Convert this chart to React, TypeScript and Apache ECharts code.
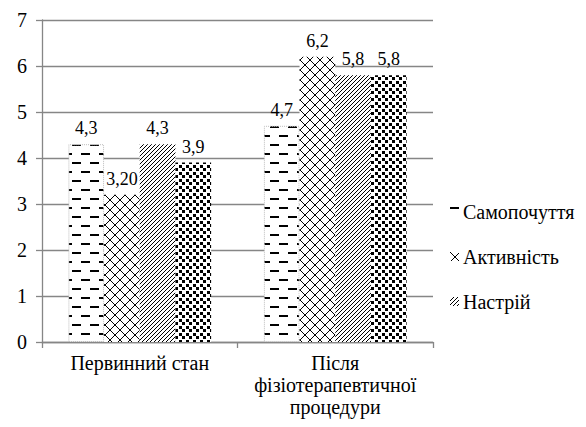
import React, { useEffect, useRef } from "react";
import * as echarts from "echarts";

const categories = ["Первинний стан", "Після\nфізіотерапевтичної\nпроцедури"];
const seriesNames = ["Самопочуття", "Активність", "Настрій", "Ряд4"];
const legendNames = ["Самопочуття", "Активність", "Настрій"];
const samopochuttya = [4.3, 4.7];
const aktyvnist = [3.2, 6.2];
const nastrii = [4.3, 5.8];
const riad4 = [3.9, 5.8];
const valueLabels = [
  ["4,3", "4,7"],
  ["3,20", "6,2"],
  ["4,3", "5,8"],
  ["3,9", "5,8"],
];
const yTicks = [0, 1, 2, 3, 4, 5, 6, 7];

const FONT = "Liberation Serif";

function makeCanvas(w: number, h: number, draw: (ctx: CanvasRenderingContext2D) => void) {
  const c = document.createElement("canvas");
  c.width = w;
  c.height = h;
  const ctx = c.getContext("2d")!;
  ctx.fillStyle = "#ffffff";
  ctx.fillRect(0, 0, w, h);
  ctx.fillStyle = "#000000";
  draw(ctx);
  return c;
}

function patterns() {
  const dashes = makeCanvas(18, 18, (ctx) => {
    ctx.fillRect(0, 0, 9, 2);
    ctx.fillRect(9, 9, 9, 2);
  });
  const diamond = makeCanvas(10, 10, (ctx) => {
    for (let i = 0; i < 10; i++) {
      ctx.fillRect(i, i, 1, 1);
      ctx.fillRect(9 - i, i, 1, 1);
    }
  });
  const diag = makeCanvas(4, 4, (ctx) => {
    for (let i = 0; i < 4; i++) {
      ctx.fillRect(3 - i, i, 1, 1);
    }
  });
  const confetti = makeCanvas(7, 7, (ctx) => {
    ctx.fillRect(0, 0, 3, 3);
    ctx.fillRect(4, 4, 3, 3);
  });
  return [dashes, diamond, diag, confetti].map((img) => ({
    image: img,
    repeat: "repeat",
  }));
}

function txt(text: string, x: number, y: number, size: number, align: string, valign: string, lineHeight?: number) {
  return {
    type: "text",
    x,
    y,
    style: {
      text,
      fontFamily: FONT,
      fontSize: size,
      fill: "#000",
      align,
      verticalAlign: valign,
      textAlign: align,
      textVerticalAlign: valign,
      lineHeight: lineHeight || size + 2,
    },
  };
}

export default function App() {
  const ref = useRef<HTMLDivElement>(null);
  useEffect(() => {
    if (!ref.current) return;
    const chart = echarts.init(ref.current, null, { renderer: "svg" });
    const pats = patterns();
    const dataSets = [samopochuttya, aktyvnist, nastrii, riad4];
    const option: any = {
      animation: false,
      textStyle: { fontFamily: FONT },
      grid: { left: 42, right: 153, top: 20, bottom: 85, containLabel: false },
      xAxis: {
        type: "category",
        data: categories,
        axisLine: { lineStyle: { color: "#868686", width: 1.3 } },
        axisTick: { show: true, length: 6, lineStyle: { color: "#868686", width: 1.3 } },
        axisLabel: { show: false },
      },
      yAxis: {
        type: "value",
        min: yTicks[0],
        max: yTicks[yTicks.length - 1],
        interval: 1,
        axisLine: { show: true, lineStyle: { color: "#868686", width: 1.3 } },
        axisTick: { show: true, length: 6, lineStyle: { color: "#868686", width: 1.3 } },
        splitLine: { lineStyle: { color: "#868686", width: 1.3 } },
        axisLabel: { show: false },
      },
      series: dataSets.map((d, si) => ({
        name: seriesNames[si],
        type: "bar",
        data: d,
        barGap: "0%",
        barCategoryGap: "27%",
        itemStyle: {
          color: pats[si],
          borderColor: si === 0 ? "#bbbbbb" : "transparent",
          borderWidth: si === 0 ? 1 : 0,
          borderType: "dotted",
        },
        label: { show: false },
      })),
    };
    chart.setOption(option);

    const graphics: any[] = [];
    yTicks.forEach((t) => {
      const p = chart.convertToPixel({ yAxisIndex: 0 }, t) as number;
      graphics.push(txt(String(t), 27, p, 20, "right", "middle"));
    });
    const axisY = chart.convertToPixel({ yAxisIndex: 0 }, yTicks[0]) as number;
    categories.forEach((c, i) => {
      const px = chart.convertToPixel({ xAxisIndex: 0 }, i) as number;
      graphics.push(txt(c, px, axisY + 10, 20, "center", "top", 22));
    });
    const model: any = (chart as any).getModel();
    dataSets.forEach((d, si) => {
      const data = model.getSeriesByIndex(si).getData();
      d.forEach((_v, di) => {
        const lay = data.getItemLayout(di);
        if (!lay) return;
        const top = Math.min(lay.y, lay.y + lay.height);
        graphics.push(txt(valueLabels[si][di], lay.x + lay.width / 2, top - 6, 18, "center", "bottom"));
      });
    });
    const gridTopY = chart.convertToPixel({ yAxisIndex: 0 }, yTicks[yTicks.length - 1]) as number;
    legendNames.forEach((n, i) => {
      const cy = gridTopY + 192 + i * 45;
      graphics.push({
        type: "rect",
        x: 450,
        y: cy - 5,
        shape: { x: 0, y: 0, width: 9, height: 9 },
        style: { fill: pats[i], stroke: null },
      });
      graphics.push(txt(n, 463, cy, 20, "left", "middle"));
    });
    chart.setOption({ graphic: graphics });
    return () => chart.dispose();
  }, []);
  return <div ref={ref} style={{ width: 586, height: 427, marginLeft: -8, marginTop: -8, background: "#fff" }} />;
}
